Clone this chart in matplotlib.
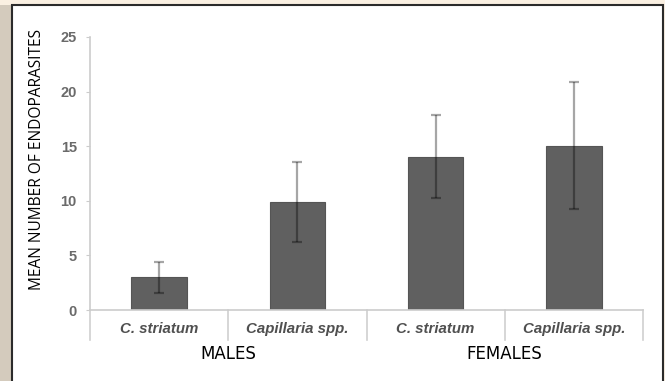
import matplotlib.pyplot as plt
from matplotlib.patches import Rectangle
import numpy as np

# Mean endoparasite counts per host sex and parasite
categories = ['C. striatum', 'Capillaria spp.', 'C. striatum', 'Capillaria spp.']
groups = ['MALES', 'FEMALES']
means = [3.0, 9.9, 14.05, 15.05]
errors = [1.4, 3.65, 3.8, 5.8]
y_ticks = [0, 5, 10, 15, 20, 25]

fig = plt.figure(figsize=(6.65, 3.81), dpi=100)
fig.patch.set_facecolor('#faf0e2')

W, H = 665, 381

# shaded left margin and white framed panel, kept behind the axes
fig.patches.append(Rectangle((0, 0), 12 / W, 1 - 5 / H, transform=fig.transFigure,
                             facecolor='#d4cbbd', edgecolor='none', zorder=-2))
fig.patches.append(Rectangle((12 / W, -0.05), 651 / W, 1.05 - 5 / H, transform=fig.transFigure,
                             facecolor='white', edgecolor='#2b2b2b', linewidth=1.5, zorder=-1))

ax = fig.add_axes([90 / W, 1 - 310 / H, 553 / W, 273 / H])
ax.set_facecolor('none')

x = np.arange(len(means))
ax.bar(x, means, width=0.4, color='#606060', edgecolor='#555555', linewidth=0.8, zorder=2)
ax.errorbar(x, means, yerr=errors, fmt='none', ecolor='black', alpha=0.35,
            elinewidth=1.6, capsize=3.5, capthick=1.6, zorder=3)

ax.set_xlim(-0.5, len(means) - 0.5)
ax.set_ylim(0, 25)
ax.set_yticks(y_ticks)
ax.set_yticklabels([str(t) for t in y_ticks], color='#6a6a6a', fontsize=10.5,
                   fontweight='bold', family='Liberation Sans')
ax.tick_params(axis='y', length=3, color='#cccccc', pad=6.5)
ax.set_xticks([])

for s in ['top', 'right']:
    ax.spines[s].set_visible(False)
for s in ['left', 'bottom']:
    ax.spines[s].set_color('#cccccc')
    ax.spines[s].set_linewidth(1.2)

# category separators that drop below the baseline
for b in np.arange(-0.5, len(means), 1.0):
    ax.plot([b, b], [0, -2.75], color='#d0d0d0', linewidth=1.2, clip_on=False, zorder=1)

for i, name in enumerate(categories):
    ax.text(i, -1.75, name, ha='center', va='center', fontsize=10.8, style='italic',
            fontweight='bold', color='#505050', family='Liberation Sans')

for g, name in enumerate(groups):
    ax.text(2 * g + 0.5, -4.05, name, ha='center', va='center', fontsize=12,
            color='black', family='DejaVu Sans')

fig.text(37 / W, 1 - 159 / H, 'MEAN NUMBER OF ENDOPARASITES', rotation=90,
         ha='center', va='center', fontsize=11.2, color='black', family='Open Sans')

fig.savefig('out.png', dpi=100)
